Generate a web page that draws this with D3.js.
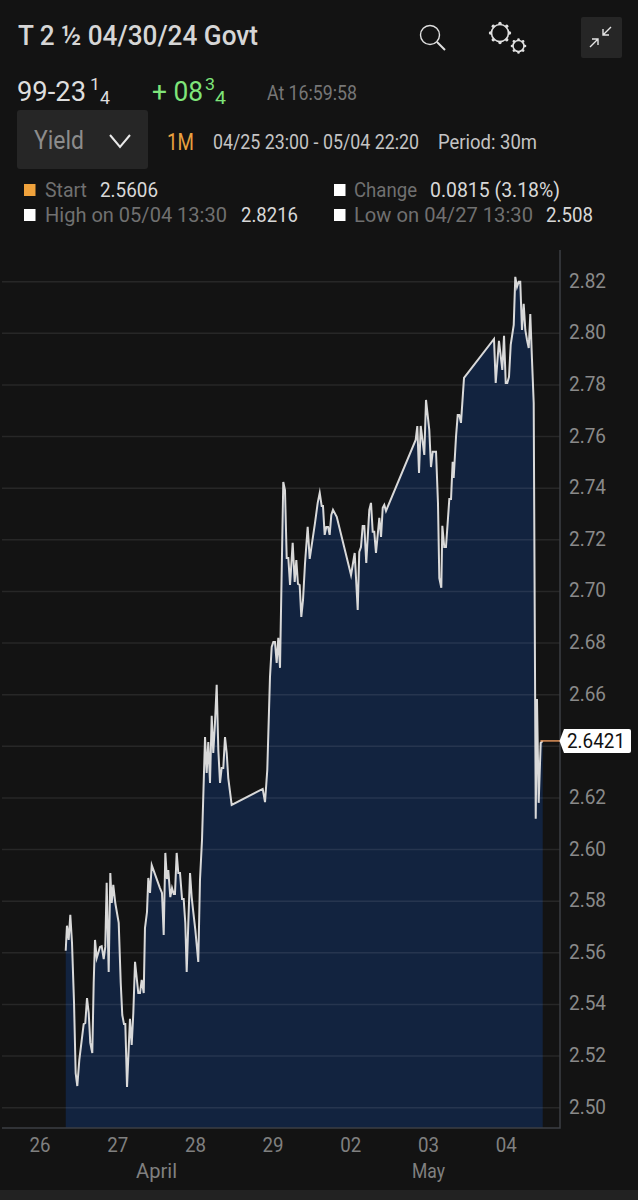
<!DOCTYPE html>
<html><head><meta charset="utf-8">
<script src="https://cdn.jsdelivr.net/npm/d3@7"></script>
<style>html,body{margin:0;padding:0;background:#131313}svg{display:block}
text{font-family:"Roboto","Liberation Sans",sans-serif}</style></head><body>
<script>
const dayPos = [.331,.347,.369,.390,.412,.438,.459,.480,.506,.537,.562,.583,.605,.627,.647,.673,.691,.708,.730,.772,.794,.820,.840,.858,.884,.905,.923,.943,.969,1.013,1.039,1.059,1.081,1.098,1.120,1.158,1.180,1.201,1.223,1.265,1.287,1.309,1.335,1.351,1.377,1.394,1.416,1.438,1.544,1.570,1.592,1.613,1.634,1.651,1.677,1.699,1.721,1.737,1.759,1.780,1.802,1.828,1.849,1.870,1.888,1.909,1.931,1.952,1.973,1.999,2.037,2.059,2.085,2.124,2.145,2.166,2.188,2.210,2.230,2.252,2.274,2.295,2.317,2.338,2.359,2.381,2.403,2.423,2.467,2.866,2.896,2.925,2.960,2.982,3.003,3.024,3.046,3.067,3.089,3.111,3.131,3.153,3.175,3.196,3.218,3.252,3.278,3.299,3.320,3.342,3.363,3.385,3.411,3.445,3.471,3.539,3.574,3.600,3.625,3.642,3.664,3.685,3.707,3.728,3.749,3.771,3.819,4.003,4.050,4.089,4.109,4.131,4.153,4.174,4.199,4.238,4.260,4.282,4.302,4.324,4.367,4.389,4.411,4.431,4.453,4.835,4.856,4.878,4.900,4.946,4.968,5.010,5.032,5.054,5.097,5.122,5.139,5.165,5.178,5.203,5.225,5.268,5.290,5.311,5.324,5.354,5.376,5.396,5.418,5.457,5.843,5.865,5.907,5.950,5.972,5.994,6.014,6.036,6.058,6.097,6.117,6.139,6.161,6.181,6.203,6.225,6.246,6.268,6.290,6.310,6.332,6.354,6.380,6.396,6.418,6.444,6.470];
const yields = [2.5608,2.5705,2.5650,2.5747,2.5638,2.5406,2.5134,2.5084,2.5185,2.5262,2.5324,2.5328,2.5425,2.5367,2.5251,2.5212,2.5483,2.5650,2.5580,2.5623,2.5626,2.5576,2.5623,2.5871,2.5526,2.5909,2.5793,2.5863,2.5793,2.5716,2.5483,2.5359,2.5324,2.5324,2.5080,2.5344,2.5243,2.5367,2.5565,2.5444,2.5444,2.5495,2.5444,2.5696,2.5758,2.5890,2.5832,2.5940,2.5851,2.5832,2.5669,2.5987,2.5886,2.5921,2.5816,2.5851,2.5828,2.5828,2.5987,2.5909,2.5909,2.5809,2.5809,2.5716,2.5526,2.5716,2.5909,2.5816,2.5758,2.5689,2.5565,2.5882,2.6037,2.6436,2.6297,2.6417,2.6258,2.6518,2.6374,2.6491,2.6638,2.6386,2.6258,2.6316,2.6316,2.6436,2.6374,2.6277,2.6173,2.6235,2.6184,2.6308,2.6669,2.6785,2.6804,2.6804,2.6723,2.6820,2.6704,2.7083,2.7424,2.7393,2.7130,2.7130,2.7025,2.7188,2.7037,2.7122,2.7029,2.7025,2.6901,2.6967,2.7110,2.7250,2.7126,2.7265,2.7343,2.7382,2.7331,2.7331,2.7219,2.7250,2.7250,2.7219,2.7296,2.7316,2.7289,2.7064,2.7149,2.6928,2.7153,2.7172,2.7254,2.7254,2.7110,2.7316,2.7343,2.7231,2.7231,2.7149,2.7285,2.7211,2.7324,2.7335,2.7312,2.7587,2.7641,2.7459,2.7641,2.7529,2.7742,2.7626,2.7482,2.7541,2.7541,2.7343,2.7052,2.7014,2.7254,2.7172,2.7172,2.7358,2.7358,2.7502,2.7440,2.7599,2.7684,2.7684,2.7653,2.7827,2.7978,2.7808,2.7971,2.7858,2.7990,2.7808,2.7808,2.7831,2.7955,2.8033,2.8219,2.8180,2.8200,2.8200,2.8013,2.8114,2.8013,2.7974,2.7943,2.8075,2.7897,2.7730,2.6119,2.6583,2.6181,2.6413,2.6421];
const yTicks = [2.50,2.52,2.54,2.56,2.58,2.60,2.62,2.64,2.66,2.68,2.70,2.72,2.74,2.76,2.78,2.80,2.82];
const yLabelTicks = [2.50,2.52,2.54,2.56,2.58,2.60,2.62,2.66,2.68,2.70,2.72,2.74,2.76,2.78,2.80,2.82];
const dayLabels = ["26","27","28","29","02","03","04"];
const monthLabels = [["April",1.5],["May",5]];
const lastValue = 2.6421;

const W=638,H=1200;
const svg=d3.select("body").append("svg").attr("width",W).attr("height",H);
svg.append("rect").attr("width",W).attr("height",H).attr("fill","#131313");
svg.append("rect").attr("y",1190).attr("width",W).attr("height",10).attr("fill","#222");

const x=d3.scaleLinear().domain([0,6]).range([40,506.2]);
const y=d3.scaleLinear().domain([2.5,2.82]).range([1107.7,281.7]);
const plotBottom=1128, plotRight=560, plotLeft=2;
const pts=dayPos.map((d,i)=>[d,yields[i]]);

svg.append("path").datum(pts).attr("fill","#12233f")
  .attr("d",d3.area().x(d=>x(d[0])).y0(plotBottom).y1(d=>y(d[1])));
svg.append("g").selectAll("line").data(yTicks).join("line")
  .attr("x1",plotLeft).attr("x2",plotRight).attr("y1",d=>y(d)).attr("y2",d=>y(d))
  .attr("stroke","#ffffff").attr("stroke-opacity",.085).attr("stroke-width",1.5);
svg.append("path").datum(pts).attr("fill","none").attr("stroke","#d9d9d9").attr("stroke-width",2)
  .attr("stroke-linejoin","miter").attr("stroke-miterlimit",6)
  .attr("d",d3.line().x(d=>x(d[0])).y(d=>y(d[1])));

svg.append("path").attr("d",`M${plotLeft},${plotBottom}H${plotRight}V250`).attr("fill","none").attr("stroke","#3c3f44").attr("stroke-width",1.5);

function T(s,px,py,size,fill,anchor,len){
  const t=svg.append("text").attr("x",px).attr("y",py).attr("font-size",size).attr("fill",fill)
    .attr("dominant-baseline","central").attr("text-anchor",anchor||"start").text(s);
  if(len) t.attr("textLength",len).attr("lengthAdjust","spacingAndGlyphs");
  return t;
}
yLabelTicks.forEach(v=>T(v.toFixed(2),569,y(v)-1,21,"#8a8a8a","start",37));
dayLabels.forEach((s,i)=>T(s,x(i),1145,21,"#808080","middle",21));
monthLabels.forEach(m=>T(m[0],x(m[1]),1171,21,"#808080","middle",m[0]=="May"?33:41));

const ly=y(lastValue);
svg.append("line").attr("x1",x(6.44)).attr("x2",plotRight).attr("y1",ly).attr("y2",ly).attr("stroke","#e0925a").attr("stroke-width",1.5);
svg.append("path").attr("d",`M559.5,${ly}L564,${ly-12}H629a2,2 0 0 1 2,2V${ly+10}a2,2 0 0 1 -2,2H564Z`).attr("fill","#fff");
T(lastValue.toFixed(4),567,ly+.5,21,"#111","start",58);

T("T 2 ½ 04/30/24 Govt",18,36,27,"#d6d6d6","start",240).attr("font-weight",500);
T("99-23",17,91,28,"#dedede","start",69);
T("1",90,84,17,"#dedede","start",10);
T("4",100,97,18,"#dedede","start",10);
T("+ 08",152,91,28,"#7fe57a","start",51);
T("3",205,84,17,"#7fe57a","start",10);
T("4",215,97,18,"#7fe57a","start",11);
T("At 16:59:58",267,93,20,"#777","start",90);

svg.append("rect").attr("x",17).attr("y",110).attr("width",131).attr("height",59).attr("rx",3).attr("fill","#262626");
T("Yield",34,140,25,"#8c8c8c","start",50);
svg.append("path").attr("d","M110,135L120,147L130,135").attr("fill","none").attr("stroke","#e8e8e8").attr("stroke-width",2);
T("1M",167,142,24,"#e9a03f","start",27);
T("04/25 23:00 - 05/04 22:20",213,142,20,"#c4c4c4","start",206);
T("Period: 30m",438,142,20,"#c4c4c4","start",99);

const legend=[
 [24,190,"#f0a23c","Start",45,42,"2.5606",100,58],
 [24,215,"#ffffff","High on 05/04 13:30",45,182,"2.8216",241,57],
 [334,190,"#ffffff","Change",354,63,"0.0815 (3.18%)",430,130],
 [334,215,"#ffffff","Low on 04/27 13:30",354,179,"2.508",546,47]];
legend.forEach(l=>{
  svg.append("rect").attr("x",l[0]).attr("y",l[1]-6).attr("width",11.5).attr("height",12).attr("fill",l[2]);
  T(l[3],l[4],l[1],21,"#707070","start",l[5]);
  T(l[6],l[7],l[1],21,"#d8d8d8","start",l[8]);
});

const ic=svg.append("g").attr("fill","none").attr("stroke","#e0e0e0");
ic.append("circle").attr("cx",430).attr("cy",35).attr("r",9.5).attr("stroke-width",1.4);
ic.append("line").attr("x1",437).attr("y1",42).attr("x2",445).attr("y2",50).attr("stroke-width",2);
function gear(cx,cy,r,n,dr){
  ic.append("circle").attr("cx",cx).attr("cy",cy).attr("r",r).attr("stroke-width",1.6);
  d3.range(n).forEach(i=>{const a=i/n*2*Math.PI;
    ic.append("circle").attr("cx",cx+(r+1)*Math.cos(a)).attr("cy",cy+(r+1)*Math.sin(a)).attr("r",dr).attr("fill","#e0e0e0").attr("stroke","none");});
}
gear(500,33,8.5,8,1.7); gear(518.5,46,5.5,8,1.3);
svg.append("rect").attr("x",581).attr("y",17).attr("width",41).attr("height",41).attr("rx",2).attr("fill","#262626");
const ar=svg.append("g").attr("fill","none").attr("stroke","#e4e4e4").attr("stroke-width",1.4);
ar.append("path").attr("d","M590,47L598,39M592,39H598V45");
ar.append("path").attr("d","M603,35L611,27M603,29V35H609");
</script></body></html>
